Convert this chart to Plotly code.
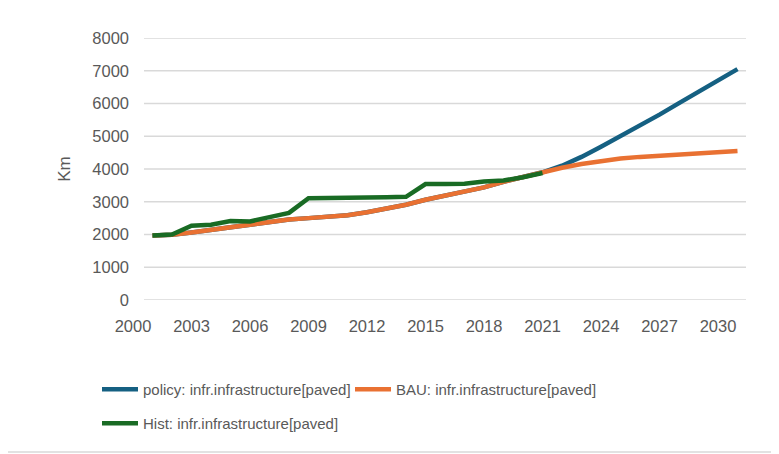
import plotly.graph_objects as go

years = list(range(2001, 2032))
hist_years = list(range(2001, 2022))

hist = [1970, 2000, 2270, 2300, 2410, 2400, 2530, 2660, 3110, 3110, 3130,
        3140, 3140, 3150, 3540, 3540, 3550, 3620, 3650, 3750, 3880]

bau = [1970, 1990, 2060, 2140, 2240, 2320, 2400, 2460, 2500, 2530, 2590,
       2680, 2790, 2910, 3060, 3190, 3300, 3440, 3610, 3760, 3900,
       4040, 4150, 4250, 4320, 4370, 4410, 4450, 4490, 4530, 4550]

policy = [1970, 1990, 2060, 2140, 2240, 2320, 2400, 2460, 2500, 2530, 2590,
          2680, 2790, 2910, 3060, 3190, 3300, 3440, 3610, 3760, 3900,
          4100, 4370, 4680, 5000, 5330, 5660, 6010, 6360, 6710, 7050]

x_ticks = list(range(2000, 2031, 3))
y_ticks = list(range(0, 8001, 1000))

names = ["policy: infr.infrastructure[paved]",
         "BAU: infr.infrastructure[paved]",
         "Hist: infr.infrastructure[paved]"]
colors = ["#156082", "#E97132", "#196B24"]

FONT = "Liberation Sans"
TXT = "#595959"
GRID = "#D9D9D9"

# page body has an 8px margin; the figure is sized so it ends at the window edge
OFF = 8
W, H = 779 - OFF, 454 - OFF
ML, MR, MT, MB = 133 - OFF, 33, 38 - OFF, 154
PW, PH = W - ML - MR, H - MT - MB

fig = go.Figure()
fig.add_trace(go.Scatter(x=years, y=policy, mode="lines", name=names[0],
                         line=dict(color=colors[0], width=4.5), legend="legend"))
fig.add_trace(go.Scatter(x=years, y=bau, mode="lines", name=names[1],
                         line=dict(color=colors[1], width=4.5), legend="legend"))
fig.add_trace(go.Scatter(x=hist_years, y=hist, mode="lines", name=names[2],
                         line=dict(color=colors[2], width=4.5), legend="legend2"))

grid_x0 = 11 / PW
shapes = []
for v in y_ticks:
    shapes.append(dict(type="line", xref="paper", yref="y", x0=grid_x0, x1=1,
                       y0=v, y1=v, line=dict(color=GRID, width=1.3), layer="below"))
# chart border (right and bottom edges fall inside the page)
bx = (776 - OFF - ML) / PW
by = -(452 - OFF - (H - MB)) / PH
shapes.append(dict(type="line", xref="paper", yref="paper", x0=bx, x1=bx,
                   y0=by, y1=(H - MB) / PH, line=dict(color=GRID, width=1.5)))
shapes.append(dict(type="line", xref="paper", yref="paper", x0=-ML / PW, x1=bx,
                   y0=by, y1=by, line=dict(color=GRID, width=1.5)))

leg_x = (97 - 133) / PW
fig.update_layout(
    width=W, height=H,
    margin=dict(l=ML, r=MR, t=MT, b=MB, autoexpand=False),
    paper_bgcolor="white", plot_bgcolor="white",
    font=dict(family=FONT, color=TXT, size=16),
    xaxis=dict(range=[2000, 2000 + PW / 19.5], tickvals=x_ticks,
               showgrid=False, zeroline=False, showline=False, ticks="",
               ticklabelstandoff=14, tickfont=dict(size=16.5, color=TXT, family=FONT)),
    yaxis=dict(range=[0, 8000], tickvals=y_ticks, showgrid=False, zeroline=False,
               showline=False, ticks="", ticklabelstandoff=3,
               tickfont=dict(size=16.5, color=TXT, family=FONT),
               title=dict(text="Km", standoff=17, font=dict(size=17, color=TXT, family=FONT))),
    shapes=shapes,
    showlegend=True,
    legend=dict(orientation="h", x=leg_x, xanchor="left", y=(300 - 373) / PH,
                yanchor="top", itemwidth=36, entrywidth=202, entrywidthmode="pixels",
                font=dict(size=15, color=TXT, family=FONT), bgcolor="rgba(0,0,0,0)"),
    legend2=dict(orientation="h", x=leg_x, xanchor="left", y=(300 - 407) / PH,
                 yanchor="top", itemwidth=36,
                 font=dict(size=15, color=TXT, family=FONT), bgcolor="rgba(0,0,0,0)"),
)

fig.write_html("out.html")
